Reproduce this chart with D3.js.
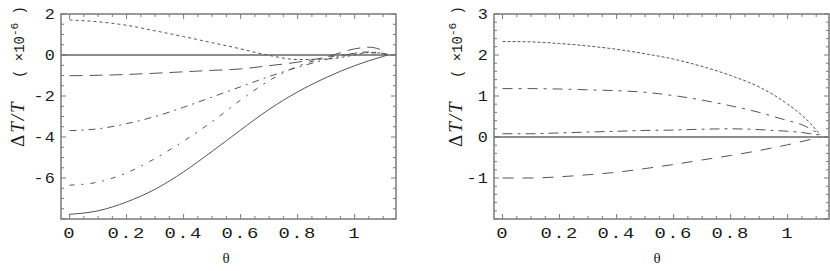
<!DOCTYPE html>
<html><head><meta charset="utf-8">
<script src="https://cdn.jsdelivr.net/npm/d3@7"></script>
<style>body{margin:0;background:#fff}svg{display:block}</style>
</head><body><svg id="c" width="830" height="271"></svg>
<script>
// ---------- data ----------
const thetaL = [0, 0.1, 0.2, 0.3, 0.4, 0.5, 0.6, 0.7, 0.8, 0.9, 1.0, 1.05, 1.1, 1.115];
const leftDotted   = [1.71, 1.62, 1.45, 1.18, 0.9, 0.6, 0.3, -0.02, -0.22, -0.2, 0.0, 0.12, 0.08, 0];
const leftLongDash = [-1.01, -0.99, -0.95, -0.89, -0.82, -0.75, -0.68, -0.52, -0.35, -0.1, 0.3, 0.38, 0.2, 0];
const leftDashDot  = [-3.69, -3.6, -3.35, -3.0, -2.55, -2.05, -1.55, -1.05, -0.6, -0.22, 0.08, 0.15, 0.08, 0];
const leftDashDot2 = [-6.35, -6.2, -5.75, -5.05, -4.2, -3.25, -2.2, -1.25, -0.55, -0.14, 0.08, 0.11, 0.06, 0];
const leftSolid    = [-7.77, -7.6, -7.17, -6.55, -5.7, -4.7, -3.66, -2.65, -1.8, -1.1, -0.52, -0.28, -0.07, 0];

const thetaR = [0, 0.1, 0.2, 0.3, 0.4, 0.5, 0.6, 0.7, 0.8, 0.9, 0.95, 1.0, 1.05, 1.08, 1.1, 1.115];
const rightDotted   = [2.33, 2.32, 2.28, 2.22, 2.14, 2.03, 1.9, 1.72, 1.5, 1.22, 1.03, 0.8, 0.53, 0.33, 0.17, 0.05];
const rightDashDot  = [1.18, 1.18, 1.17, 1.15, 1.13, 1.09, 1.01, 0.9, 0.76, 0.6, 0.5, 0.4, 0.3, 0.2, 0.12, 0.05];
const rightDashDot2 = [0.08, 0.08, 0.1, 0.12, 0.14, 0.16, 0.17, 0.19, 0.2, 0.18, 0.16, 0.14, 0.11, 0.08, 0.06, 0.05];
const rightLongDash = [-1.0, -1.0, -0.97, -0.92, -0.86, -0.77, -0.67, -0.56, -0.45, -0.33, -0.26, -0.19, -0.11, -0.06, -0.03, 0];

const xTicks = [0, 0.2, 0.4, 0.6, 0.8, 1];
const xTickLabels = ["0", "0.2", "0.4", "0.6", "0.8", "1"];
const leftYTicks = [-6, -4, -2, 0, 2];
const rightYTicks = [-1, 0, 1, 2, 3];
const xLabel = "θ";

// ---------- drawing ----------
const svg = d3.select("#c");
const FRAME = "#7a7a7a", LINE = "#555", TEXT = "#1a1a1a";
const plotTop = 14, plotBottom = 219;

function panel(cfg) {
  const g = svg.append("g");
  const x = d3.scaleLinear().domain([-0.03, 1.145]).range([cfg.left, cfg.left + 335]);
  const y = d3.scaleLinear().domain(cfg.yDomain).range([plotBottom, plotTop]);

  const xMinor = d3.range(0, 1.1401, 0.05);
  const yMinor = d3.range(cfg.yDomain[0], cfg.yDomain[1] + 1e-9, cfg.yMinorStep);
  const isMajorX = v => xTicks.some(t => Math.abs(t - v) < 1e-6);
  const isMajorY = v => Math.abs(v - Math.round(v / cfg.yMajorStep) * cfg.yMajorStep) < 1e-6;
  const tk = g.append("g").attr("stroke", FRAME).attr("stroke-width", 1);
  xMinor.forEach(v => {
    const L = isMajorX(v) ? 5 : 3;
    tk.append("line").attr("x1", x(v)).attr("x2", x(v)).attr("y1", plotBottom).attr("y2", plotBottom - L);
    tk.append("line").attr("x1", x(v)).attr("x2", x(v)).attr("y1", plotTop).attr("y2", plotTop + L);
  });
  yMinor.forEach(v => {
    const L = isMajorY(v) ? 5 : 3;
    tk.append("line").attr("y1", y(v)).attr("y2", y(v)).attr("x1", x.range()[0]).attr("x2", x.range()[0] + L);
    tk.append("line").attr("y1", y(v)).attr("y2", y(v)).attr("x1", x.range()[1]).attr("x2", x.range()[1] - L);
  });

  g.append("line").attr("x1", x.range()[0]).attr("x2", x.range()[1])
    .attr("y1", y(0)).attr("y2", y(0)).attr("stroke", "#666").attr("stroke-width", 1.4);

  const line = d3.line().x(d => x(d[0])).y(d => y(d[1])).curve(d3.curveMonotoneX);
  cfg.series.forEach(s => {
    g.append("path").datum(s.theta.map((t, i) => [t, s.values[i]]))
      .attr("d", line).attr("fill", "none").attr("stroke", LINE)
      .attr("stroke-width", 1).attr("stroke-dasharray", s.dash);
  });

  g.append("rect").attr("x", x.range()[0]).attr("y", plotTop)
    .attr("width", 335).attr("height", plotBottom - plotTop)
    .attr("fill", "none").attr("stroke", FRAME).attr("stroke-width", 1.5);

  xTicks.forEach((v, i) => {
    g.append("g").attr("transform", `translate(${x(v)},238) scale(1.35,1)`)
      .append("text").attr("text-anchor", "middle")
      .attr("font-family", "Liberation Mono").attr("font-size", 14)
      .attr("letter-spacing", 1).attr("fill", TEXT).text(xTickLabels[i]);
  });
  cfg.yTicks.forEach(v => {
    g.append("g").attr("transform", `translate(${x.range()[0] - 5},${y(v) + 5}) scale(1.2,1)`)
      .append("text").attr("text-anchor", "end")
      .attr("font-family", "Liberation Mono").attr("font-size", 14)
      .attr("letter-spacing", 1).attr("fill", TEXT).text(v < 0 ? "-" + Math.abs(v) : String(v));
  });
  g.append("text").attr("x", cfg.thetaX).attr("y", 263).attr("text-anchor", "middle")
    .attr("font-family", "Liberation Serif").attr("font-size", 15).attr("fill", TEXT).text(xLabel);

  const t1 = g.append("text").attr("transform", `translate(${cfg.titleX},147) rotate(-90)`)
    .attr("font-family", "Liberation Serif").attr("font-size", 19).attr("fill", TEXT)
    .attr("letter-spacing", 2);
  t1.append("tspan").text("Δ");
  t1.append("tspan").attr("font-style", "italic").text("T/T");
  const t2 = g.append("text").attr("transform", `translate(${cfg.titleX},78) rotate(-90)`)
    .attr("font-family", "Liberation Mono").attr("font-size", 14).attr("fill", TEXT);
  t2.append("tspan").text("( ×10");
  t2.append("tspan").attr("dy", -6).attr("font-size", 11).text("-6");
  t2.append("tspan").attr("dy", 6).text(" )");
}

panel({
  left: 61, yDomain: [-8, 2], yMinorStep: 0.5, yMajorStep: 2, yTicks: leftYTicks,
  thetaX: 226, titleX: 24,
  series: [
    {theta: thetaL, values: leftDotted, dash: "3,3"},
    {theta: thetaL, values: leftLongDash, dash: "13,7"},
    {theta: thetaL, values: leftDashDot, dash: "7,5,2,5"},
    {theta: thetaL, values: leftDashDot2, dash: "5,7,2,7"},
    {theta: thetaL, values: leftSolid, dash: null}
  ]
});
panel({
  left: 494, yDomain: [-2, 3], yMinorStep: 0.2, yMajorStep: 1, yTicks: rightYTicks,
  thetaX: 657, titleX: 462,
  series: [
    {theta: thetaR, values: rightDotted, dash: "3,2"},
    {theta: thetaR, values: rightDashDot, dash: "10,6,3,6"},
    {theta: thetaR, values: rightDashDot2, dash: "10,5,3,5"},
    {theta: thetaR, values: rightLongDash, dash: "11,9"}
  ]
});
</script>
</body></html>
